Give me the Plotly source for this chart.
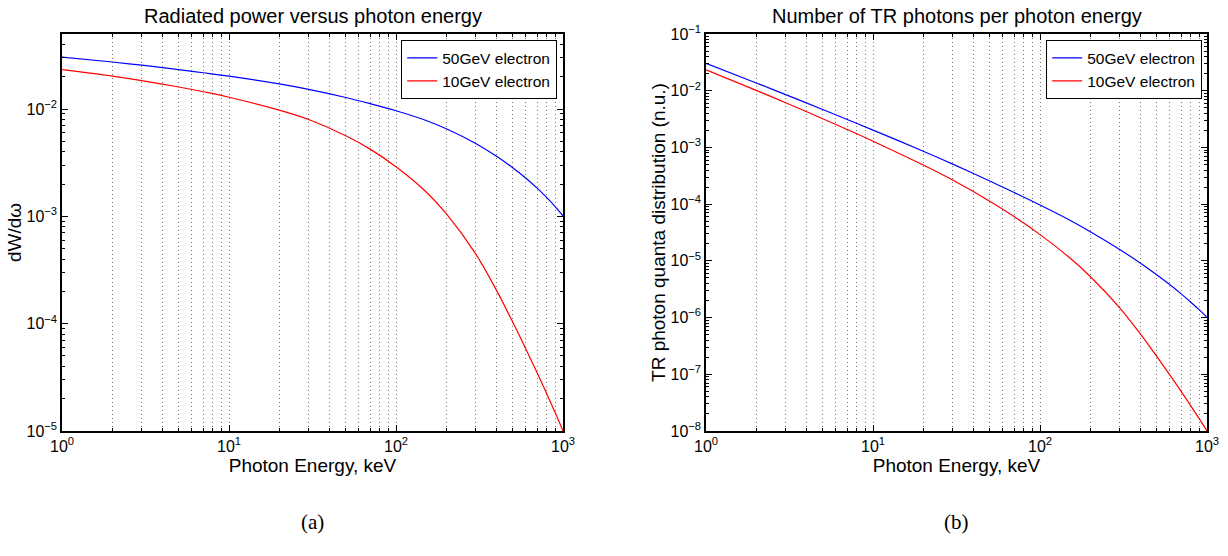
import plotly.graph_objects as go

# ---- data ----
energy_kev = [1, 2, 3, 5, 7, 10, 20, 30, 50, 70, 100, 150, 200, 300, 400, 500, 600, 700, 800, 900, 1000]

power_50gev = [0.0304, 0.02742, 0.02559, 0.02328, 0.02178, 0.02023, 0.01714, 0.01524, 0.0128, 0.01122,
               0.00964, 0.00787, 0.00655, 0.00478, 0.00363, 0.00284, 0.002265, 0.00183, 0.001493,
               0.001227, 0.001012]
power_10gev = [0.02328, 0.02028, 0.01841, 0.01603, 0.01449, 0.01288, 0.00977, 0.00798, 0.00564, 0.00423,
               0.0029, 0.001714, 0.001059, 4.467e-4, 2.042e-4, 1.035e-4, 5.78e-5, 3.49e-5, 2.213e-5,
               1.469e-5, 1.0e-5]

photons_50gev = [0.0304, 0.01371, 0.00853, 0.004656, 0.003112, 0.002023, 8.57e-4, 5.08e-4, 2.56e-4,
                 1.603e-4, 9.64e-5, 5.25e-5, 3.27e-5, 1.592e-5, 9.08e-6, 5.68e-6, 3.78e-6, 2.615e-6,
                 1.866e-6, 1.365e-6, 1.012e-6]
photons_10gev = [0.02328, 0.01014, 0.00614, 0.003206, 0.00207, 0.001288, 4.89e-4, 2.66e-4, 1.127e-4,
                 6.04e-5, 2.9e-5, 1.143e-5, 5.3e-6, 1.489e-6, 5.105e-7, 2.07e-7, 9.64e-8, 4.99e-8,
                 2.767e-8, 1.633e-8, 1.0e-8]

series_names = ["50GeV electron", "10GeV electron"]
series_colors = ["#0000ff", "#ff0000"]

titles = ["Radiated power versus photon energy", "Number of TR photons per photon energy"]
x_title = "Photon Energy, keV"
y_titles = ["dW/d\u03c9", "TR photon quanta distribution (n.u.)"]
captions = ["(a)", "(b)"]

x_exponents = [0, 1, 2, 3]
y1_exponents = [-5, -4, -3, -2]
y2_exponents = [-8, -7, -6, -5, -4, -3, -2, -1]

W, H = 1228, 556
FONT = "Liberation Sans, Arial, sans-serif"


def pow_label(e):
    return "10<sup>%s</sup>" % (str(e).replace("-", "\u2212"))


fig = go.Figure()

for name, col, ys in zip(series_names, series_colors, [power_50gev, power_10gev]):
    fig.add_trace(go.Scatter(x=energy_kev, y=ys, mode="lines", name=name,
                             line=dict(color=col, width=1.2, shape="spline", smoothing=1.0),
                             xaxis="x", yaxis="y", legend="legend"))
for name, col, ys in zip(series_names, series_colors, [photons_50gev, photons_10gev]):
    fig.add_trace(go.Scatter(x=energy_kev, y=ys, mode="lines", name=name,
                             line=dict(color=col, width=1.2, shape="spline", smoothing=1.0),
                             xaxis="x2", yaxis="y2", legend="legend2"))

minor_x = [m * 10 ** d for d in range(0, 3) for m in range(2, 10)]
GRID = "rgba(0,0,0,0.55)"
GRID_DASH = "1px,3px"


def xaxis(domain, anchor):
    return dict(type="log", domain=domain, anchor=anchor, range=[0, 3],
                tickmode="array", tickvals=[10 ** e for e in x_exponents],
                ticktext=[pow_label(e) for e in x_exponents],
                showline=True, linecolor="black", linewidth=1.5,
                mirror="ticks", ticks="inside", ticklen=6, tickcolor="black",
                showgrid=True, gridcolor=GRID, griddash=GRID_DASH, gridwidth=1,
                tickfont=dict(family=FONT, size=16, color="black"),
                title=dict(text=x_title, font=dict(family=FONT, size=19, color="black"), standoff=4),
                minor=dict(tickvals=minor_x, ticks="inside", ticklen=3, tickcolor="black",
                           showgrid=True, gridcolor=GRID, griddash=GRID_DASH, gridwidth=1),
                zeroline=False, automargin=False)


def yaxis(domain, anchor, rng, exps, title, standoff):
    minor_y = [m * 10.0 ** d for d in range(int(rng[0]), 0) for m in range(2, 10)]
    return dict(type="log", domain=domain, anchor=anchor, range=rng,
                tickmode="array", tickvals=[10.0 ** e for e in exps],
                ticktext=[pow_label(e) for e in exps],
                showline=True, linecolor="black", linewidth=1.5,
                mirror="ticks", ticks="inside", ticklen=6, tickcolor="black", showgrid=False,
                tickfont=dict(family=FONT, size=16, color="black"),
                title=dict(text=title, font=dict(family=FONT, size=19, color="black"), standoff=standoff),
                minor=dict(tickvals=minor_y, ticks="inside", ticklen=3, tickcolor="black", showgrid=False),
                zeroline=False, automargin=False)


ydom = [1 - 431 / H, 1 - 34 / H]
x1dom = [62 / W, 563 / W]
x2dom = [706 / W, 1207 / W]

legend_common = dict(xanchor="right", yanchor="top", xref="paper", yref="paper",
                     bordercolor="black", borderwidth=1.2, bgcolor="white",
                     font=dict(family=FONT, size=15.5, color="black"), tracegroupgap=0,
                     itemwidth=30)

fig.update_layout(
    width=W, height=H, margin=dict(l=0, r=0, t=0, b=0),
    paper_bgcolor="white", plot_bgcolor="white",
    font=dict(family=FONT, color="black"),
    xaxis=xaxis(x1dom, "y"),
    yaxis=yaxis(ydom, "x", [-5, -1.301], y1_exponents, y_titles[0], 0),
    xaxis2=xaxis(x2dom, "y2"),
    yaxis2=yaxis(ydom, "x2", [-8, -1], y2_exponents, y_titles[1], 0),
    legend=dict(x=557 / W, y=1 - 40 / H, **legend_common),
    legend2=dict(x=1202 / W, y=1 - 40 / H, **legend_common),
    showlegend=True,
)

annots = []
for dom, t in zip([x1dom, x2dom], titles):
    annots.append(dict(text=t, x=(dom[0] + dom[1]) / 2, y=1 - 16 / H, xref="paper", yref="paper",
                       xanchor="center", yanchor="middle", showarrow=False,
                       font=dict(family=FONT, size=20, color="black")))
for dom, c in zip([x1dom, x2dom], captions):
    annots.append(dict(text=c, x=(dom[0] + dom[1]) / 2, y=1 - 522 / H, xref="paper", yref="paper",
                       xanchor="center", yanchor="middle", showarrow=False,
                       font=dict(family="Liberation Serif, DejaVu Serif, serif", size=21, color="black")))
fig.update_layout(annotations=annots)

fig.write_html("out.html")
